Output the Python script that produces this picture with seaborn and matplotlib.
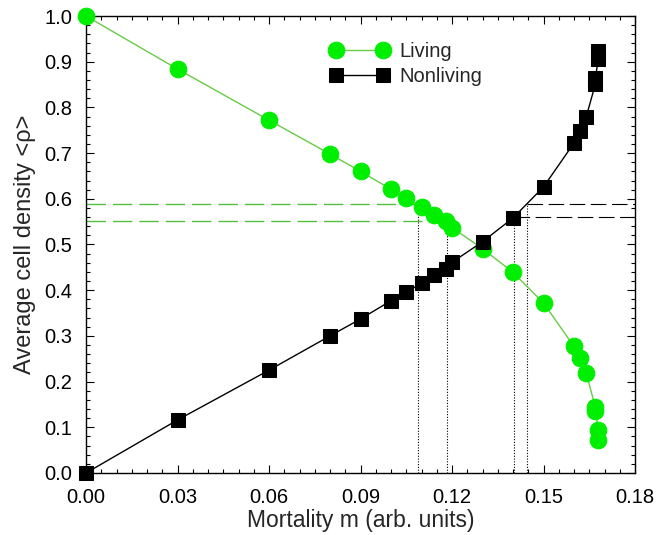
import numpy as np
import pandas as pd
import matplotlib
matplotlib.use("Agg")
import matplotlib.pyplot as plt
from matplotlib.ticker import MultipleLocator, FormatStrFormatter
import seaborn as sns

# ---- data ----
mortality = [0.0, 0.03, 0.06, 0.08, 0.09, 0.10, 0.105, 0.11, 0.114, 0.118, 0.12,
             0.13, 0.14, 0.15, 0.16, 0.162, 0.164, 0.167, 0.167, 0.168, 0.168]
living = [1.0, 0.884, 0.772, 0.698, 0.660, 0.621, 0.602, 0.582, 0.565, 0.551, 0.537,
          0.491, 0.439, 0.372, 0.277, 0.252, 0.219, 0.144, 0.135, 0.094, 0.072]
nonliving = [0.0, 0.116, 0.225, 0.300, 0.337, 0.377, 0.395, 0.416, 0.433, 0.446, 0.461,
             0.506, 0.558, 0.626, 0.722, 0.748, 0.779, 0.851, 0.865, 0.906, 0.923]

# guide lines: (level, m position)
green_guides_y = [0.589, 0.551]
green_guides_m = [0.1087, 0.1183]
black_guides_y = [0.589, 0.560]
black_guides_m = [0.1446, 0.1402]

x_label = "Mortality m (arb. units)"
y_label = "Average cell density <ρ>"
series_names = ["Living", "Nonliving"]

df = pd.DataFrame({"m": mortality, "Living": living, "Nonliving": nonliving})

sns.set_style("ticks")
plt.rcParams["font.family"] = ["Liberation Sans", "DejaVu Sans"]

fig = plt.figure(figsize=(6.56, 5.35), dpi=100)
ax = fig.add_axes([86 / 656, 1 - 473 / 535, 549 / 656, 457 / 535])

green_marker = "#00ee00"
green_line = "#66cc44"
green_dash = "#55c040"

# guide lines
for yv, mv in zip(green_guides_y, green_guides_m):
    ax.plot([0, mv], [yv, yv], color=green_dash, lw=1.0, dashes=(14, 5), zorder=1)
    ax.plot([mv, mv], [0, yv], color="black", lw=0.8, ls=(0, (1, 1.5)), zorder=1)
for yv, mv in zip(black_guides_y, black_guides_m):
    ax.plot([mv, 0.18], [yv, yv], color="black", lw=0.8, dashes=(14, 5), zorder=1)
    ax.plot([mv, mv], [0, yv], color="black", lw=0.8, ls=(0, (1, 1.5)), zorder=1)

sns.lineplot(data=df, x="m", y="Living", ax=ax, sort=False, estimator=None,
             color=green_line, lw=1.0, marker="o", markersize=12,
             markerfacecolor=green_marker, markeredgecolor=green_marker,
             label=series_names[0], clip_on=False, zorder=3)
sns.lineplot(data=df, x="m", y="Nonliving", ax=ax, sort=False, estimator=None,
             color="black", lw=1.0, marker="s", markersize=9.5,
             markerfacecolor="black", markeredgecolor="black",
             label=series_names[1], clip_on=False, zorder=4)

ax.set_xlim(0, 0.18)
ax.set_ylim(0, 1.0)
ax.xaxis.set_major_locator(MultipleLocator(0.03))
ax.xaxis.set_minor_locator(MultipleLocator(0.005))
ax.yaxis.set_major_locator(MultipleLocator(0.1))
ax.yaxis.set_minor_locator(MultipleLocator(0.02))
ax.xaxis.set_major_formatter(FormatStrFormatter("%.2f"))
ax.yaxis.set_major_formatter(FormatStrFormatter("%.1f"))

for s in ax.spines.values():
    s.set_visible(True)
    s.set_linewidth(1.0)
    s.set_color("black")

ax.tick_params(which="both", direction="in", top=True, right=True, color="black",
               width=0.8, labelsize=14.5, labelcolor="black")
ax.tick_params(which="major", length=5.5)
ax.tick_params(which="minor", length=2.8)
ax.tick_params(axis="x", which="major", pad=11)
ax.tick_params(axis="y", which="major", pad=10)

ax.set_xlabel(x_label, fontsize=16.5, labelpad=1)
ax.set_ylabel(y_label, fontsize=17, labelpad=6)

leg = ax.legend(loc="upper left", bbox_to_anchor=(0.445, 0.943), frameon=False,
                numpoints=2, handlelength=2.9, handletextpad=0.55, labelspacing=0.3,
                borderpad=0, borderaxespad=0, fontsize=14.5)

fig.savefig("out.png", dpi=100)
